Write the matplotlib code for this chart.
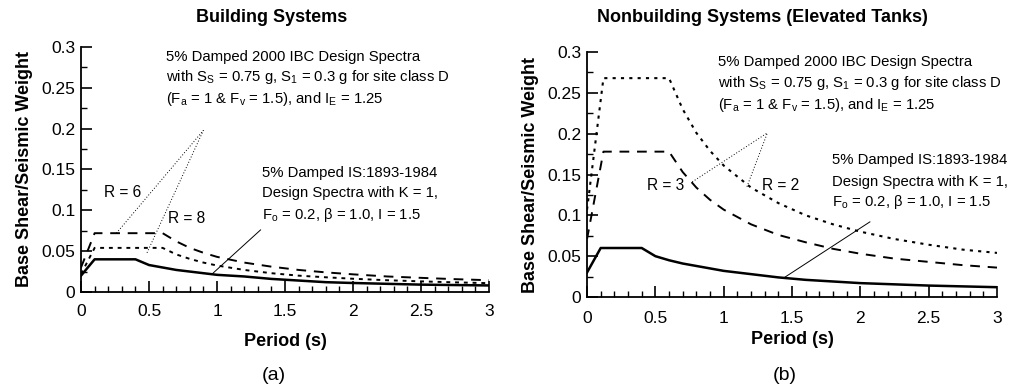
import numpy as np
import matplotlib.pyplot as plt
from matplotlib.ticker import MultipleLocator, FormatStrFormatter

plt.rcParams['font.family'] = ['Liberation Sans', 'DejaVu Sans']
plt.rcParams['mathtext.fontset'] = 'custom'
plt.rcParams['mathtext.rm'] = 'Liberation Sans'

# --- data ---
# (a) building systems
T_is = [0, 0.1, 0.4, 0.5, 0.6, 0.7, 0.8, 0.9, 1.0, 1.2, 1.4, 1.6, 1.8, 2.0, 2.5, 3.0]
is_bldg = [0.020, 0.040, 0.040, 0.033, 0.030, 0.027, 0.025, 0.023, 0.021, 0.019, 0.016,
           0.014, 0.012, 0.011, 0.009, 0.008]
T_ibc = [0, 0.1, 0.6, 0.7, 0.8, 0.9, 1.0, 1.2, 1.4, 1.6, 1.8, 2.0, 2.25, 2.5, 2.75, 3.0]
ibc_r6 = [0.030, 0.072, 0.072, 0.062, 0.054, 0.048, 0.043, 0.036, 0.031, 0.027, 0.024,
          0.0216, 0.019, 0.0173, 0.0157, 0.0144]
ibc_r8 = [0.022, 0.054, 0.054, 0.046, 0.0405, 0.036, 0.0324, 0.027, 0.023, 0.020, 0.018,
          0.0162, 0.0144, 0.013, 0.0118, 0.0108]

# (b) elevated tanks
is_tank = [0.030, 0.060, 0.060, 0.050, 0.045, 0.041, 0.038, 0.035, 0.032, 0.028, 0.024,
           0.021, 0.019, 0.017, 0.014, 0.012]
T_ibc2 = [0, 0.12, 0.6, 0.7, 0.8, 0.9, 1.0, 1.2, 1.4, 1.6, 1.8, 2.0, 2.25, 2.5, 2.75, 3.0]
ibc_r3 = [0.071, 0.178, 0.178, 0.153, 0.134, 0.119, 0.107, 0.089, 0.076, 0.067, 0.059,
          0.053, 0.047, 0.043, 0.039, 0.036]
ibc_r2 = [0.107, 0.268, 0.268, 0.230, 0.201, 0.179, 0.161, 0.134, 0.115, 0.100, 0.089,
          0.080, 0.071, 0.064, 0.058, 0.054]

ibc_txt = ["5% Damped 2000 IBC Design Spectra",
           r"with S$_{\mathrm{S}}$ = 0.75 g, S$_{\mathrm{1}}$ = 0.3 g for site class D",
           r"(F$_{\mathrm{a}}$ = 1 & F$_{\mathrm{v}}$ = 1.5), and I$_{\mathrm{E}}$ = 1.25"]
is_txt = ["5% Damped IS:1893-1984",
          "Design Spectra with K = 1,",
          r"F$_{\mathrm{o}}$ = 0.2, $\mathrm{\beta}$ = 1.0, I = 1.5"]
FS = 10.7

fig = plt.figure(figsize=(10.09, 3.89), dpi=100)
ax1 = fig.add_axes([0.0803, 0.2494, 0.4044, 0.6298])
ax2 = fig.add_axes([0.5818, 0.2365, 0.4063, 0.6298])


def style(ax, xpad, lpad):
    ax.set_xlim(0, 3)
    ax.set_ylim(0, 0.3)
    ax.spines['top'].set_visible(False)
    ax.spines['right'].set_visible(False)
    ax.xaxis.set_major_locator(MultipleLocator(0.5))
    ax.xaxis.set_minor_locator(MultipleLocator(0.1))
    ax.yaxis.set_major_locator(MultipleLocator(0.05))
    ax.yaxis.set_minor_locator(MultipleLocator(0.025))
    ax.xaxis.set_major_formatter(FormatStrFormatter('%g'))
    ax.yaxis.set_major_formatter(FormatStrFormatter('%g'))
    ax.tick_params(which='major', direction='in', length=8, width=1.2, labelsize=12.5)
    ax.tick_params(which='minor', direction='in', length=4, width=1.0)
    ax.tick_params(axis='x', which='major', pad=xpad)
    ax.tick_params(axis='y', which='major', pad=4)
    for s in ['left', 'bottom']:
        ax.spines[s].set_linewidth(1.3)
    ax.set_xlabel("Period (s)", fontsize=13, fontweight='bold', labelpad=lpad)
    ax.set_ylabel("Base Shear/Seismic Weight", fontsize=13, fontweight='bold', labelpad=6)


style(ax1, 9, 10)
style(ax2, 10, 4)

# --- (a) ---
ax1.plot(T_is, is_bldg, color='black', lw=1.8)
ax1.plot(T_ibc, ibc_r6, color='black', lw=1.4, linestyle=(0, (5, 4)))
ax1.plot(T_ibc, ibc_r8, color='black', lw=1.4, linestyle=(0, (2, 2.5)))
ax1.plot([0.26, 0.9], [0.072, 0.198], color='black', lw=0.7, linestyle=(0, (1, 2)))
ax1.plot([0.485, 0.9], [0.048, 0.198], color='black', lw=0.7, linestyle=(0, (1, 2)))
ax1.plot([0.97, 1.32], [0.023, 0.076], color='black', lw=0.7)
for t, y in zip(ibc_txt, [0.288, 0.263, 0.236]):
    ax1.text(0.625, y, t, fontsize=FS, va='center')
ax1.text(0.17, 0.122, "R = 6", fontsize=FS + 0.5, va='center')
ax1.text(0.64, 0.090, "R = 8", fontsize=FS + 0.5, va='center')
for t, y in zip(is_txt, [0.146, 0.121, 0.094]):
    ax1.text(1.33, y, t, fontsize=FS, va='center')

# --- (b) ---
ax2.plot(T_is, is_tank, color='black', lw=1.8)
ax2.plot(T_ibc2, ibc_r3, color='black', lw=1.4, linestyle=(0, (5, 4)))
ax2.plot(T_ibc2, ibc_r2, color='black', lw=1.5, linestyle=(0, (1.5, 2.5)))
ax2.plot([0.77, 1.32], [0.141, 0.201], color='black', lw=0.7, linestyle=(0, (1, 2)))
ax2.plot([1.17, 1.32], [0.135, 0.201], color='black', lw=0.7, linestyle=(0, (1, 2)))
ax2.plot([1.45, 2.07], [0.0245, 0.092], color='black', lw=0.7)
for t, y in zip(ibc_txt, [0.288, 0.262, 0.235]):
    ax2.text(0.96, y, t, fontsize=FS, va='center')
ax2.text(0.44, 0.137, "R = 3", fontsize=FS + 0.5, va='center')
ax2.text(1.28, 0.137, "R = 2", fontsize=FS + 0.5, va='center')
for t, y in zip(is_txt, [0.168, 0.141, 0.116]):
    ax2.text(1.79, y, t, fontsize=FS, va='center')

fig.text(272 / 1009, 1 - 17 / 389, "Building Systems", ha='center', va='center',
         fontsize=13, fontweight='bold')
fig.text(762 / 1009, 1 - 17 / 389, "Nonbuilding Systems (Elevated Tanks)", ha='center', va='center',
         fontsize=13, fontweight='bold')
fig.text(274 / 1009, 1 - 375 / 389, "(a)", ha='center', va='center', fontsize=14)
fig.text(785 / 1009, 1 - 375 / 389, "(b)", ha='center', va='center', fontsize=14)

fig.savefig("out.png", dpi=100)
